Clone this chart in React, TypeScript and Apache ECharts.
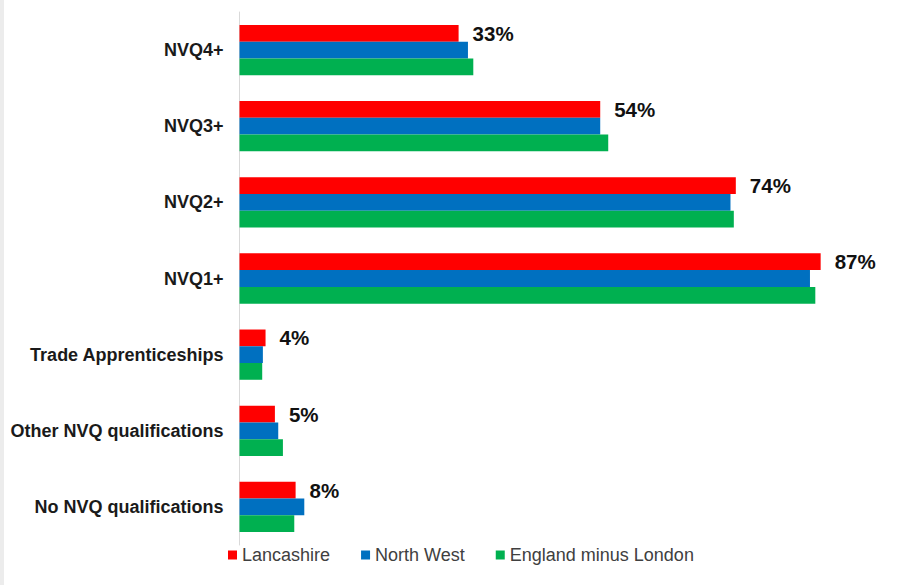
import React, { useEffect, useRef } from "react";
import * as echarts from "echarts";

const categories = [
  "NVQ4+",
  "NVQ3+",
  "NVQ2+",
  "NVQ1+",
  "Trade Apprenticeships",
  "Other NVQ qualifications",
  "No NVQ qualifications",
];
const seriesNames = ["Lancashire", "North West", "England minus London"];
const lancashire = [32.8, 54.0, 74.3, 87.0, 3.9, 5.3, 8.4];
const northWest = [34.2, 54.0, 73.5, 85.4, 3.5, 5.8, 9.7];
const englandMinusLondon = [35.0, 55.2, 74.0, 86.2, 3.4, 6.5, 8.2];
const colors = ["#FF0000", "#0070C0", "#00B050"];

export default function App() {
  const ref = useRef<HTMLDivElement>(null);
  useEffect(() => {
    if (!ref.current) return;
    const chart = echarts.init(ref.current, null, { renderer: "svg" });
    const font = "Arial, 'Liberation Sans', sans-serif";
    chart.setOption({
      animation: false,
      backgroundColor: "#ffffff",
      textStyle: { fontFamily: font },
      graphic: [
        {
          type: "rect",
          left: 0,
          top: 0,
          shape: { x: 0, y: 0, width: 4, height: 585 },
          style: { fill: "#ececec" },
          silent: true,
        },
      ],
      grid: { left: 239.5, right: 2.5, top: 12, bottom: 40, containLabel: false },
      legend: {
        data: seriesNames,
        left: 228,
        top: 546,
        padding: 0,
        itemWidth: 9,
        itemHeight: 9,
        itemGap: 31,
        icon: "rect",
        textStyle: { fontSize: 18, color: "#404040", fontFamily: font },
      },
      xAxis: {
        type: "value",
        min: 0,
        max: 100,
        show: false,
        splitLine: { show: false },
      },
      yAxis: {
        type: "category",
        data: categories,
        inverse: true,
        axisLine: { show: true, lineStyle: { color: "#d9d9d9", width: 1 } },
        axisTick: { show: false },
        axisLabel: {
          fontSize: 18,
          fontWeight: "bold",
          color: "#1a1a1a",
          margin: 16,
          fontFamily: font,
        },
      },
      series: [
        {
          name: seriesNames[0],
          type: "bar",
          data: lancashire,
          itemStyle: { color: colors[0] },
          barGap: "0%",
          barCategoryGap: "34%",
          label: {
            show: true,
            position: "right",
            distance: 14,
            fontSize: 20.5,
            fontWeight: "bold",
            color: "#111",
            fontFamily: font,
            formatter: (p: any) => Math.round(p.value) + "%",
          },
        },
        {
          name: seriesNames[1],
          type: "bar",
          data: northWest,
          itemStyle: { color: colors[1] },
          barGap: "0%",
          barCategoryGap: "34%",
        },
        {
          name: seriesNames[2],
          type: "bar",
          data: englandMinusLondon,
          itemStyle: { color: colors[2] },
          barGap: "0%",
          barCategoryGap: "34%",
        },
      ],
    });
    return () => chart.dispose();
  }, []);
  return (
    <div
      ref={ref}
      style={{ position: "fixed", left: 0, top: 0, width: 910, height: 585 }}
    />
  );
}
